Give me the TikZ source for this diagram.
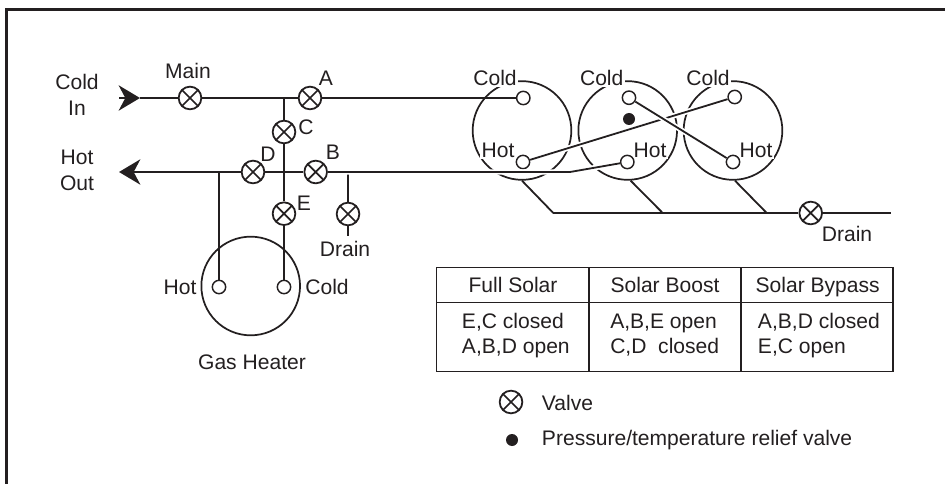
\documentclass[tikz,border=0pt]{standalone}
\usepackage{fontspec}
\setmainfont{Liberation Sans}
\usetikzlibrary{arrows.meta,positioning,calc}
\definecolor{inkBlack}{RGB}{35,31,32}
\tikzset{
  pipe/.style={draw=inkBlack, line width=1.35pt},
  halopipe/.style={pipe, preaction={draw=white, line width=4pt}},
  tank/.style={circle, draw=inkBlack, line width=1.3pt, minimum size=74pt, inner sep=0pt},
  port/.style={circle, draw=inkBlack, fill=white, line width=1.1pt, minimum size=10pt, inner sep=0pt},
  valve/.style={circle, draw=inkBlack, fill=white, line width=1.35pt, minimum size=17pt, inner sep=0pt,
    path picture={\draw[line width=1.3pt, inkBlack] (path picture bounding box.north west) -- (path picture bounding box.south east)
      (path picture bounding box.north east) -- (path picture bounding box.south west);}},
  relief/.style={circle, fill=inkBlack, minimum size=9pt, inner sep=0pt},
  label/.style={text=inkBlack, font=\fontsize{15.8}{18}\selectfont, inner sep=0pt, align=center},
  masklabel/.style={label, fill=white, inner sep=1pt},
  cell/.style={label, align=left, anchor=west},
  rule/.style={draw=inkBlack, line width=1pt},
  arrow/.style={-{Stealth[length=16pt, width=19pt, inset=5pt]}, pipe}
}
\begin{document}
\begin{tikzpicture}[x=0.75pt, y=-0.75pt]
\useasboundingbox (0,0) rectangle (945,484);
\coordinate (frameTL) at (6.5,9.5);
\coordinate (frameTR) at (945,9.5);
\coordinate (frameBL) at (6.5,484);
\draw[draw=inkBlack, line width=1.9pt] (frameBL) -- (frameTL) -- (frameTR);
% tanks
\node[tank] (tankA) at (522,130.5) {};
\node[tank] (tankB) at (627.7,130.5) {};
\node[tank] (tankC) at (733,130.5) {};
\node[tank] (heater) at (250.7,286) {};
% tank labels go over the circles
\node[masklabel] (coldA) at (495,78) {Cold};
\node[masklabel] (coldB) at (601.7,78) {Cold};
\node[masklabel] (coldC) at (708,78) {Cold};
\node[masklabel] (hotA) at (498,150) {Hot};
\node[masklabel] (hotB) at (650,150) {Hot};
\node[masklabel] (hotC) at (756,150) {Hot};
% ports
\node[port] (coldPortA) at (523.3,98) {};
\node[port] (coldPortB) at (629,97.7) {};
\node[port] (coldPortC) at (734.7,97) {};
\node[port] (hotPortA) at (523,162) {};
\node[port] (hotPortB) at (627.3,162) {};
\node[port] (hotPortC) at (733,162) {};
\node[port] (heaterHot) at (219,287) {};
\node[port] (heaterCold) at (284,287) {};
% valves
\node[valve] (main) at (190,98) {};
\node[valve] (valveA) at (310,98) {};
\node[valve] (valveC) at (284,132) {};
\node[valve] (valveD) at (253,172) {};
\node[valve] (valveB) at (315.7,172) {};
\node[valve] (valveE) at (284,213.7) {};
\node[valve] (drainB) at (348,214) {};
\node[valve] (drainT) at (810.7,213) {};
% free ends
\coordinate (coldIn) at (119,98);
\coordinate (coldTip) at (140,98);
\coordinate (hotOut) at (119,172);
\coordinate (teeCold) at (284,98);
\coordinate (teeHot) at (219,172);
\coordinate (teeDrain) at (348,172);
\coordinate (stem) at (348,236);
\coordinate (bend) at (570,172);
\coordinate (manifoldL) at (553.3,213);
\coordinate (manifoldM) at (662.7,213);
\coordinate (manifoldR) at (766.7,213);
\coordinate (manifoldE) at (890.7,213);
% pipes
\draw[pipe] (main) -- (valveA);
\draw[pipe] (valveA) -- (coldPortA);
\draw[pipe] (teeCold) -- (valveC);
\draw[pipe] (valveC) -- (valveE);
\draw[pipe] (valveE) -- (heaterCold);
\draw[pipe] (valveD) -- (valveB);
\draw[pipe] (teeHot) -- (heaterHot);
\draw[pipe] (teeDrain) -- (drainB);
\draw[pipe] (drainB) -- (stem);
\draw[halopipe] (valveB) -- (bend) -- (hotPortB);
\draw[halopipe] (hotPortA) -- (coldPortC);
\draw[halopipe] (coldPortB) -- (hotPortC);
\draw[pipe] (manifoldL) -- (drainT);
\draw[pipe] (drainT) -- (manifoldE);
\draw[pipe] (tankA.south) -- (manifoldL);
\draw[pipe] ($(tankB.south)+(3,0)$) -- (manifoldM);
\draw[pipe] ($(tankC.south)+(2,0)$) -- (manifoldR);
\draw[arrow] (coldIn) -- (coldTip);
\draw[pipe] (coldTip) -- (main);
\draw[arrow] (valveD) -- (hotOut);
\node[relief] (reliefTank) at (629,119) {};
% labels
\node[label] (coldInLbl) at (77,95) {Cold\\[1.5pt]In};
\node[label] (hotOutLbl) at (77,170) {Hot\\[1.5pt]Out};
\node[label] (mainLbl) at (188,71) {Main};
\node[label] (lblA) at (326,78) {A};
\node[label] (lblC) at (306,127) {C};
\node[label] (lblD) at (268,154) {D};
\node[label] (lblB) at (333,152) {B};
\node[label] (lblE) at (304,203) {E};
\node[label] (drainLblB) at (345,249) {Drain};
\node[label] (drainLblT) at (847,234) {Drain};
\node[label] (heaterHotLbl) at (180,287) {Hot};
\node[label] (heaterColdLbl) at (327,287) {Cold};
\node[label] (heaterLbl) at (252,362) {Gas Heater};
% table
\draw[rule] (436.7,267.7) rectangle (893,371.7);
\draw[rule] (436.7,302.3) -- (893,302.3);
\draw[rule] (589,267.7) -- (589,371.7);
\draw[rule] (741,267.7) -- (741,371.7);
\node[label] (headA) at (513,285) {Full Solar};
\node[label] (headB) at (665,285) {Solar Boost};
\node[label] (headC) at (817.7,287) {Solar Bypass};
\node[cell] (modeA) at (461.7,335.5) {E,C closed\\[0.75pt]A,B,D open};
\node[cell] (modeB) at (610,335.5) {A,B,E open\\[0.75pt]C,D\ \ closed};
\node[cell] (modeC) at (757.7,335.5) {A,B,D closed\\[0.75pt]E,C open};
% legend
\node[valve] (keyValve) at (511,402) {};
\node[relief] (keyRelief) at (512,440) {};
\node[cell] (keyValveLbl) at (541.7,403) {Valve};
\node[cell] (keyReliefLbl) at (541.7,440) {Pressure/temperature relief valve};
\end{tikzpicture}
\end{document}
